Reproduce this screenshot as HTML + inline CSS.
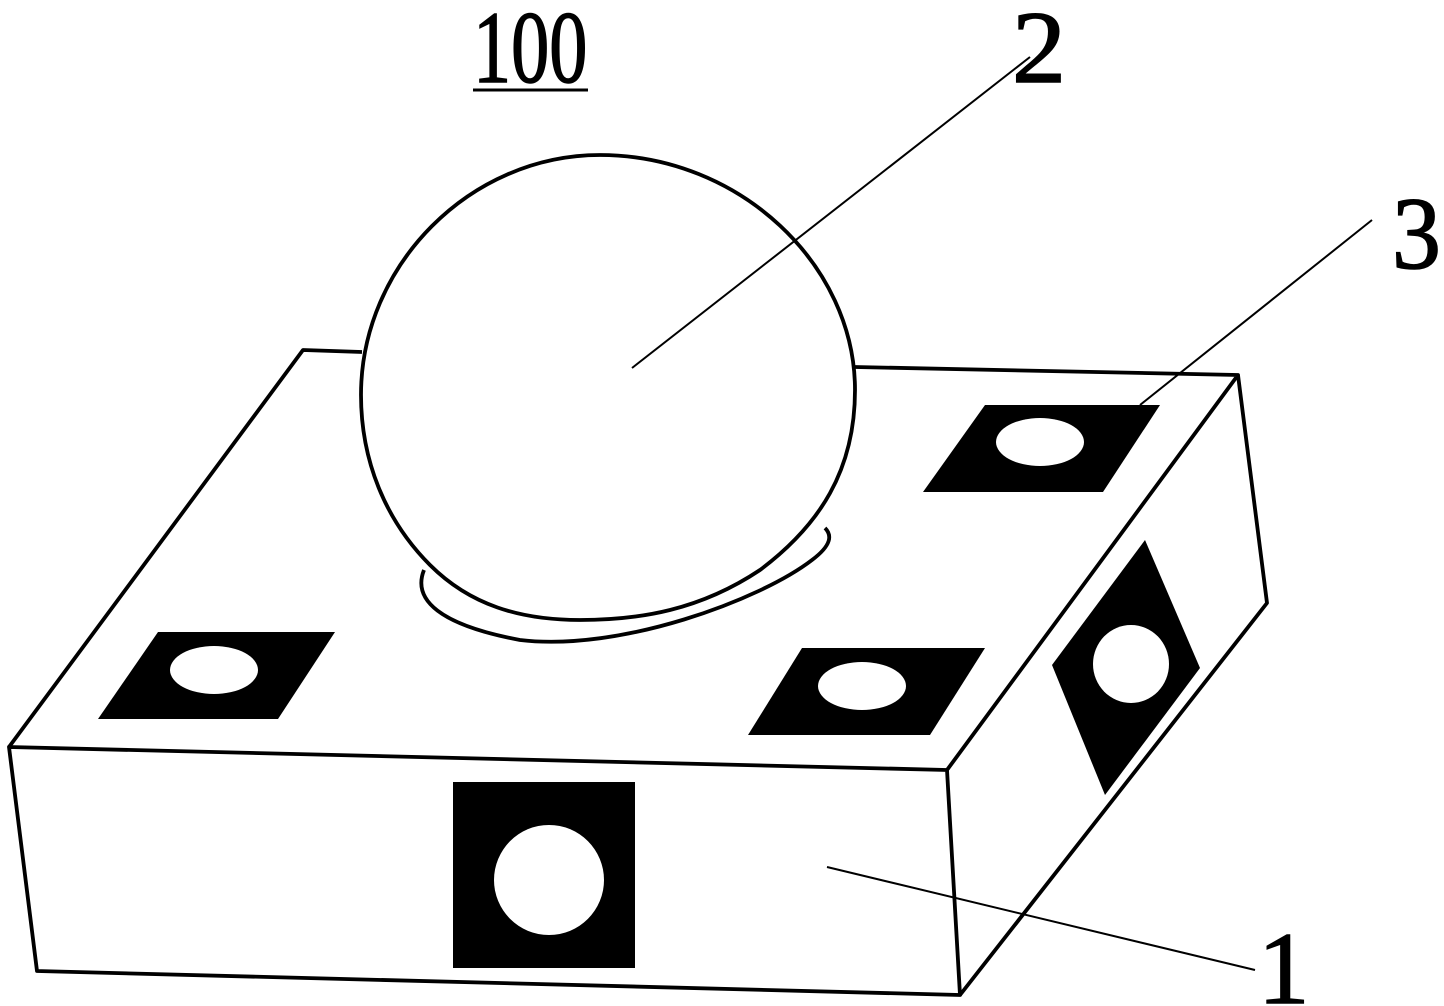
<!DOCTYPE html>
<html><head><meta charset="utf-8"><style>
html,body{margin:0;padding:0;background:#fff;}
svg{display:block;}
text{font-family:"Liberation Serif",serif;fill:#000;stroke:#000;stroke-width:1.5;}
</style></head><body>
<svg width="1444" height="1006" viewBox="0 0 1444 1006" xmlns="http://www.w3.org/2000/svg">
<g fill="none" stroke="#000" stroke-width="3.8" stroke-linejoin="round">
<polyline points="362,352 303,350 9,747"/>
<polyline points="855,367 1238,375 947,770"/>
<polygon points="9,747 947,770 960,995 37,971"/>
<polyline points="1238,375 1267,603 960,995"/>
<path d="M424,570 C412,600 440,625 520,640 C620,652 760,600 812,560 C832,545 832,535 825,528"/>
<path d="M600,155 C740,155 855,265 855,390 C855,470 820,525 760,570 C700,610 640,620 580,620 C520,620 470,605 430,565 C385,520 361,460 361,395 C361,265 470,155 600,155 Z" fill="#fff"/>
</g>
<g stroke="#000" stroke-width="2" fill="none">
<line x1="1030" y1="57" x2="632" y2="368"/>
<line x1="1372" y1="220" x2="1140" y2="405"/>
<line x1="827" y1="867" x2="1255" y2="970"/>
</g>
<g fill="#000">
<polygon points="158,632 335,632 278,719 98,719"/>
<polygon points="802,648 985,648 930,735 748,735"/>
<polygon points="985,405 1160,405 1103,492 923,492"/>
<rect x="453" y="782" width="182" height="186"/>
<polygon points="1145,540 1200,668 1105,795 1052,665"/>
</g>
<g fill="#fff">
<ellipse cx="214" cy="670" rx="44" ry="24"/>
<ellipse cx="862" cy="686" rx="44" ry="24"/>
<ellipse cx="1040" cy="442" rx="44" ry="24"/>
<circle cx="549" cy="880" r="55"/>
<ellipse cx="1131" cy="664" rx="38" ry="39"/>
</g>
<g transform="translate(473,82) scale(0.74,1)"><text x="0" y="0" font-size="103">100</text></g>
<line x1="473" y1="90" x2="588" y2="90" stroke="#000" stroke-width="3"/>
<g transform="translate(1012,82) scale(1.05,1)"><text x="0" y="0" font-size="103">2</text></g>
<g transform="translate(1392,268) scale(0.95,1)"><text x="0" y="0" font-size="103">3</text></g>
<g transform="translate(1258,1003) scale(1.0,1)"><text x="0" y="0" font-size="103">1</text></g>
</svg>
</body></html>
